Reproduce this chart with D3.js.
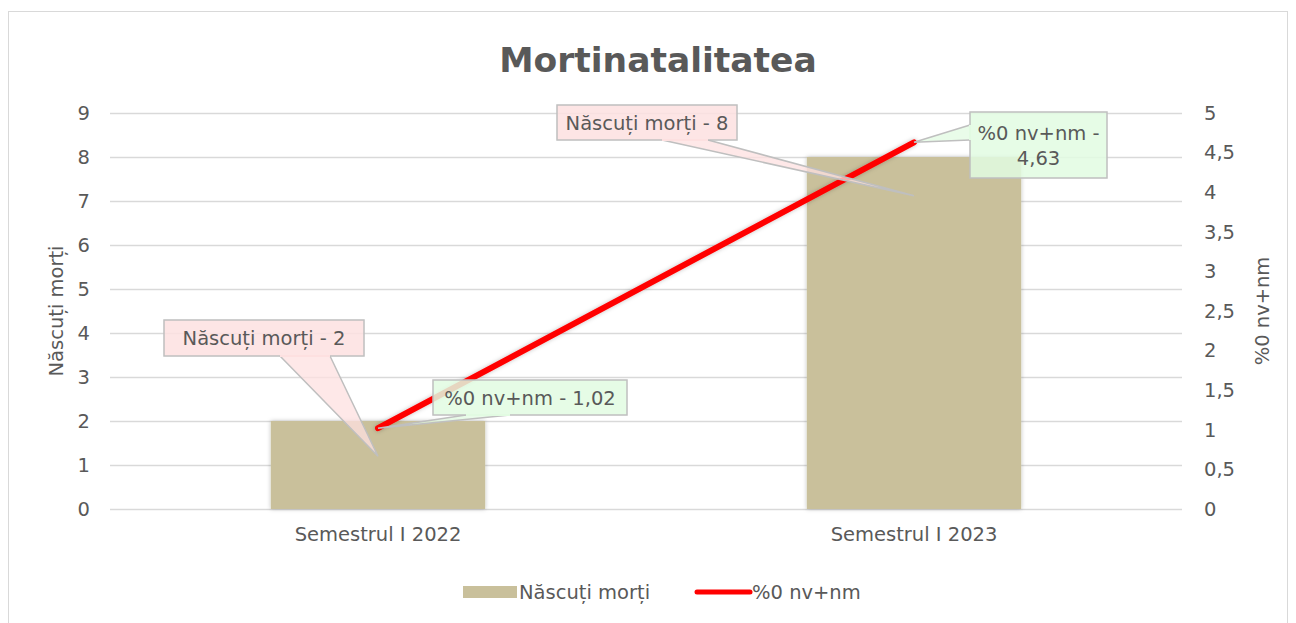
<!DOCTYPE html>
<html>
<head>
<meta charset="utf-8">
<script src="https://cdn.jsdelivr.net/npm/d3@7"></script>
<style>
  body { margin: 0; background: #fff; }
  text { font-family: "DejaVu Sans", sans-serif; fill: #595959; }
</style>
</head>
<body>
<div id="container"></div>
<script>
var categories = ["Semestrul I 2022", "Semestrul I 2023"];
var nascutiMorti = [2, 8];
var procentNvNm = [1.02, 4.63];
var leftTicks = [0, 1, 2, 3, 4, 5, 6, 7, 8, 9];
var rightTicks = [0, 0.5, 1, 1.5, 2, 2.5, 3, 3.5, 4, 4.5, 5];
var barLabels = ["Născuți morți - 2", "Născuți morți - 8"];
var lineLabels = [["%0 nv+nm - 1,02"], ["%0 nv+nm -", "4,63"]];

var width = 1296, height = 623;
var margin = {left: 110, right: 114, top: 113, bottom: 114};
var fs = "19.5px";

var svg = d3.select("#container").append("svg")
    .attr("width", width)
    .attr("height", height);

// chart border
svg.append("rect")
    .attr("x", 8.5).attr("y", 11.5)
    .attr("width", 1279).attr("height", 640)
    .attr("fill", "none").attr("stroke", "#d9d9d9");

svg.append("text")
    .attr("x", 658).attr("y", 72)
    .attr("text-anchor", "middle")
    .style("font-size", "34.5px").style("font-weight", "bold")
    .text("Mortinatalitatea");

var x = d3.scaleBand()
    .domain(categories)
    .range([margin.left, width - margin.right])
    .paddingInner(0.6).paddingOuter(0.3);
var xc = function(d) { return x(d) + x.bandwidth() / 2; };

var yL = d3.scaleLinear().domain([0, 9]).range([height - margin.bottom, margin.top]);
var yR = d3.scaleLinear().domain([0, 5]).range([height - margin.bottom, margin.top]);

// gridlines
svg.append("g").selectAll("line")
    .data(leftTicks).enter().append("line")
    .attr("x1", margin.left).attr("x2", width - margin.right)
    .attr("y1", function(d) { return yL(d) + 0.5; })
    .attr("y2", function(d) { return yL(d) + 0.5; })
    .attr("stroke", "#d9d9d9").attr("stroke-width", 1.5);

// axes
var axisL = svg.append("g")
    .attr("transform", "translate(" + margin.left + ",0)")
    .call(d3.axisLeft(yL).tickValues(leftTicks).tickSize(0).tickPadding(20));
var axisR = svg.append("g")
    .attr("transform", "translate(" + (width - margin.right) + ",0)")
    .call(d3.axisRight(yR).tickValues(rightTicks).tickSize(0).tickPadding(22)
        .tickFormat(function(d) { return String(d).replace(".", ","); }));
var axisX = svg.append("g")
    .attr("transform", "translate(0," + (height - margin.bottom) + ")")
    .call(d3.axisBottom(x).tickSize(0).tickPadding(18));
[axisL, axisR, axisX].forEach(function(a) {
  a.select(".domain").remove();
  a.selectAll("text").style("font-size", fs).attr("fill", "#595959")
    .style("font-family", "'DejaVu Sans', sans-serif");
});

svg.append("text")
    .attr("transform", "translate(63," + yL(4.5) + ") rotate(-90)")
    .attr("text-anchor", "middle")
    .style("font-size", fs)
    .text("Născuți morți");
svg.append("text")
    .attr("transform", "translate(1269," + yL(4.5) + ") rotate(-90)")
    .attr("text-anchor", "middle")
    .style("font-size", fs)
    .text("%0 nv+nm");

// bars
var defs = svg.append("defs");
var f = defs.append("filter").attr("id", "sh").attr("x", "-10%").attr("y", "-10%").attr("width", "120%").attr("height", "120%");
f.append("feDropShadow").attr("dx", 0).attr("dy", 0).attr("stdDeviation", 2).attr("flood-color", "#000").attr("flood-opacity", 0.25);

svg.append("g").selectAll("rect")
    .data(nascutiMorti).enter().append("rect")
    .attr("x", function(d, i) { return x(categories[i]); })
    .attr("width", x.bandwidth())
    .attr("y", function(d) { return yL(d); })
    .attr("height", function(d) { return yL(0) - yL(d); })
    .attr("fill", "#c9c09b")
    .attr("filter", "url(#sh)");

// line
var line = d3.line()
    .x(function(d, i) { return xc(categories[i]); })
    .y(function(d) { return yR(d); });
svg.append("path")
    .datum(procentNvNm)
    .attr("d", line)
    .attr("fill", "none")
    .attr("stroke", "#ff0000")
    .attr("stroke-width", 6)
    .attr("stroke-linecap", "round")
    .attr("filter", "url(#sh)");

// callouts
function callout(box, tip, base, lines, fill) {
  var g = svg.append("g");
  g.append("path")
    .attr("d", "M" + base[0][0] + "," + base[0][1] + "L" + tip[0] + "," + tip[1] + "L" + base[1][0] + "," + base[1][1])
    .attr("fill", fill).attr("fill-opacity", 0.75)
    .attr("stroke", "#bfbfbf").attr("stroke-width", 1.5);
  g.append("rect")
    .attr("x", box[0]).attr("y", box[1]).attr("width", box[2]).attr("height", box[3])
    .attr("fill", fill).attr("fill-opacity", 0.85)
    .attr("stroke", "#bfbfbf").attr("stroke-width", 1.5);
  g.append("line")
    .attr("x1", base[0][0]).attr("y1", base[0][1]).attr("x2", base[1][0]).attr("y2", base[1][1])
    .attr("stroke", fill).attr("stroke-width", 2);
  var cx = box[0] + box[2] / 2;
  var y0 = box[1] + box[3] / 2 - (lines.length - 1) * 12.5 + 7;
  lines.forEach(function(t, i) {
    g.append("text").attr("x", cx).attr("y", y0 + i * 25)
      .attr("text-anchor", "middle").style("font-size", fs).attr("fill", "#595959")
      .text(t);
  });
}

var pink = "#fde0e0", green = "#e2fbe2";
var b0x = xc(categories[0]), b0y = yL(nascutiMorti[0] * 0.6);
callout([164, 320, 200, 36], [b0x, b0y], [[280, 356], [330, 356]], [barLabels[0]], pink);
var b1x = xc(categories[1]), b1y = yL(nascutiMorti[1] * 0.89);
callout([557, 105, 180, 35], [b1x, b1y], [[662, 140], [708, 140]], [barLabels[1]], pink);
var p0 = [xc(categories[0]), yR(procentNvNm[0])];
callout([433, 380, 194, 35], p0, [[466, 415], [510, 415]], lineLabels[0], green);
var p1 = [xc(categories[1]), yR(procentNvNm[1])];
callout([970, 112, 137, 66], p1, [[970, 125], [970, 140]], lineLabels[1], green);

// legend
var lg = svg.append("g");
lg.append("rect").attr("x", 463).attr("y", 586).attr("width", 54).attr("height", 12).attr("fill", "#c9c09b");
lg.append("text").attr("x", 519).attr("y", 599).style("font-size", fs).text("Născuți morți");
lg.append("line").attr("x1", 697).attr("x2", 750).attr("y1", 592).attr("y2", 592)
  .attr("stroke", "#ff0000").attr("stroke-width", 5).attr("stroke-linecap", "round");
lg.append("text").attr("x", 752).attr("y", 599).style("font-size", fs).text("%0 nv+nm");
</script>
</body>
</html>
